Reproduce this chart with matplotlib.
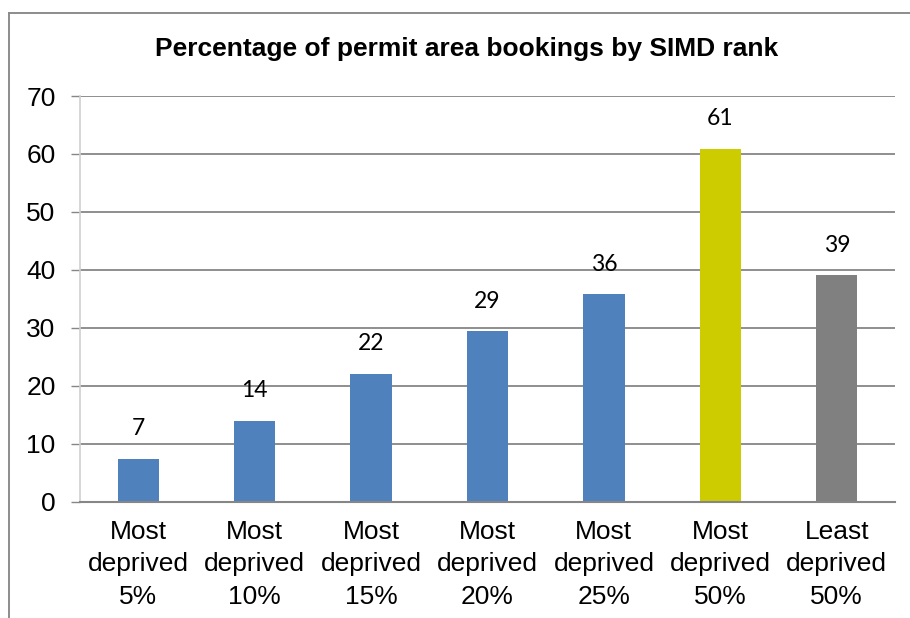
import matplotlib
matplotlib.use("Agg")
import matplotlib.pyplot as plt
from matplotlib.lines import Line2D

categories = ["Most\ndeprived\n5%", "Most\ndeprived\n10%", "Most\ndeprived\n15%",
              "Most\ndeprived\n20%", "Most\ndeprived\n25%", "Most\ndeprived\n50%",
              "Least\ndeprived\n50%"]
values = [7.4, 14.0, 22.1, 29.4, 35.8, 60.9, 39.1]
labels = ["7", "14", "22", "29", "36", "61", "39"]
colors = ["#4F81BD"] * 5 + ["#CCCC00", "#808080"]
yticks = [0, 10, 20, 30, 40, 50, 60, 70]
title = "Percentage of permit area bookings by SIMD rank"

W, H = 910, 618
fig = plt.figure(figsize=(W / 100, H / 100), dpi=100)
fig.patch.set_facecolor("white")

ax = fig.add_axes([80 / W, 1 - 501.7 / H, (895 - 80) / W, (501.7 - 96) / H])
x = list(range(len(categories)))
bars = ax.bar(x, values, width=0.355, color=colors, zorder=3)

ax.set_xlim(-0.5, len(categories) - 0.5)
ax.set_ylim(0, 70)
ax.set_yticks(yticks)
ax.set_xticks(x)
ax.set_xticklabels(categories, fontfamily="Liberation Sans", fontsize=19,
                   linespacing=1.45)
ax.set_yticklabels([str(t) for t in yticks], fontfamily="Liberation Sans", fontsize=19)
ax.tick_params(axis="x", length=0, pad=13)
ax.tick_params(axis="y", length=6.5, width=1, color="#868686", pad=11, direction="out")

ax.grid(axis="y", color="#868686", linewidth=1.3, zorder=0)
for s in ["top", "right"]:
    ax.spines[s].set_visible(False)
ax.spines["left"].set_color("#D0D0D0")
ax.spines["left"].set_linewidth(1.2)
ax.spines["bottom"].set_color("#868686")
ax.spines["bottom"].set_linewidth(1.5)
ax.spines["bottom"].set_zorder(4)

for xi, v, lab in zip(x, values, labels):
    ax.annotate(lab, (xi, v), xytext=(0, 14), textcoords="offset points",
                ha="center", va="bottom", fontfamily="Lato", fontsize=16.5)

fig.text(466.5 / W, 1 - 49 / H, title, ha="center", va="center",
         fontfamily="Liberation Sans", fontweight="bold", fontsize=19)

# outer chart border (top and left visible)
fig.add_artist(Line2D([9 / W, 9 / W], [0, 1 - 12.5 / H], transform=fig.transFigure,
                      color="#8C8C8C", linewidth=1.4))
fig.add_artist(Line2D([9 / W, 1], [1 - 12.5 / H, 1 - 12.5 / H], transform=fig.transFigure,
                      color="#8C8C8C", linewidth=1.4))

fig.savefig("out.png", dpi=100, facecolor="white")
